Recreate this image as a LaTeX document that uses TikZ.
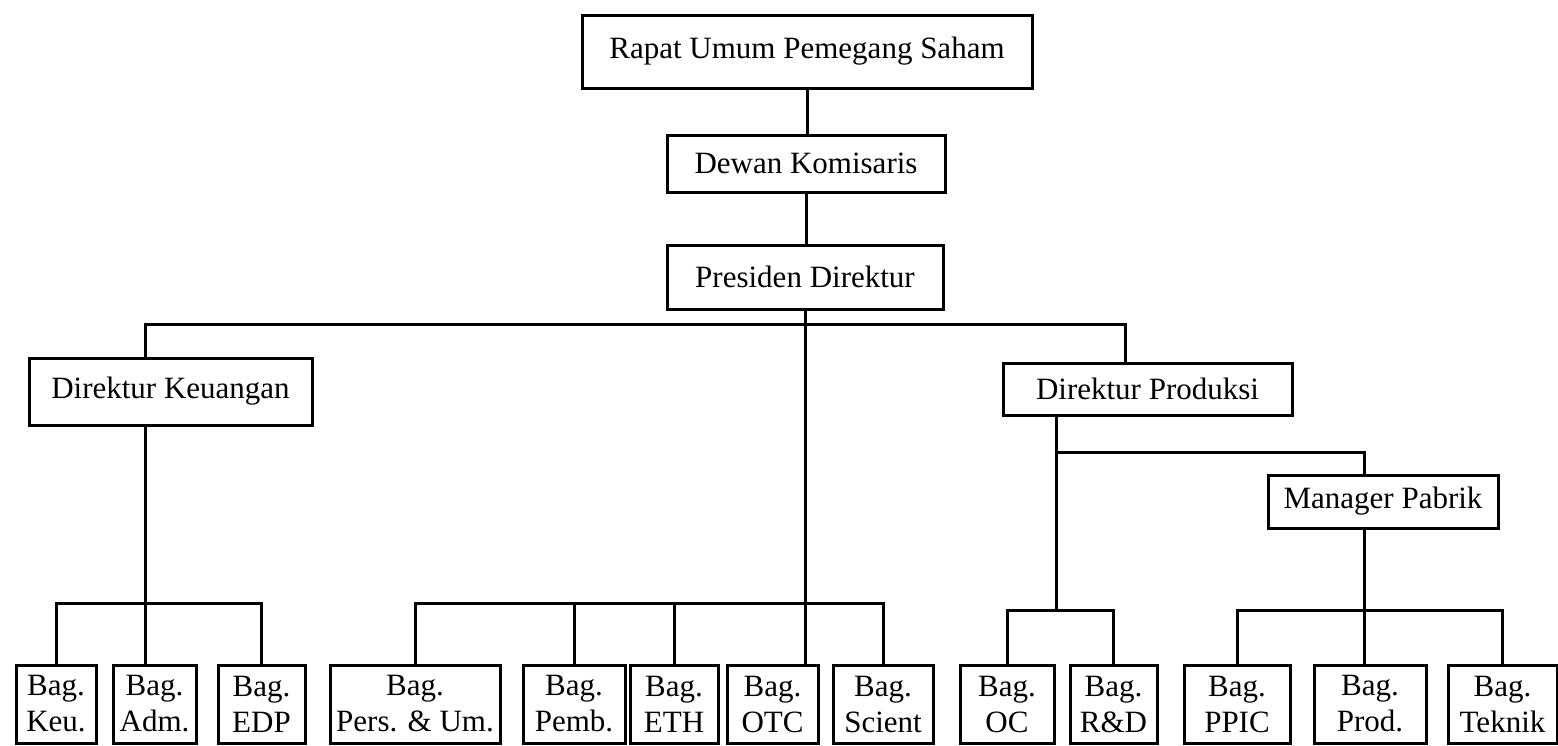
\documentclass[tikz,border=0pt]{standalone}
\usepackage{fontspec}
\setmainfont{Liberation Serif}
\begin{document}
\begin{tikzpicture}[x=1pt,y=-1pt,line width=3pt]
  \tikzstyle{box}=[draw,rectangle,inner sep=0pt,align=center,
                   font=\fontsize{31}{36}\selectfont]
  \tikzstyle{bag}=[box,minimum height=78pt]
  \useasboundingbox (0,0) rectangle (1558,745);

  % pimpinan
  \node[box,minimum width=450pt,minimum height=73pt] (rups)    at (807,51.5)    {Rapat Umum Pemegang Saham};
  \node[box,minimum width=278pt,minimum height=57pt] (dewan)   at (806,163.5)   {Dewan Komisaris};
  \node[box,minimum width=276pt,minimum height=64pt] (presdir) at (805,277)     {Presiden Direktur};
  \node[box,minimum width=283pt,minimum height=67pt] (dirkeu)  at (170.5,391.5) {Direktur Keuangan};
  \node[box,minimum width=289pt,minimum height=52pt] (dirprod) at (1147.5,389)  {Direktur Produksi};
  \node[box,minimum width=230pt,minimum height=53pt] (manager) at (1383,501.5)  {Manager Pabrik};

  % bagian
  \node[bag,minimum width=80pt]  (keu)    at (56,704)     {Bag.\\Keu.};
  \node[bag,minimum width=83pt]  (adm)    at (154.5,704)  {Bag.\\Adm.};
  \node[bag,minimum width=87pt]  (edp)    at (261.5,704)  {Bag.\\EDP};
  \node[bag,minimum width=170pt] (pers)   at (415,704)    {Bag.\\Pers. \& Um.};
  \node[bag,minimum width=102pt] (pemb)   at (574,704)    {Bag.\\Pemb.};
  \node[bag,minimum width=88pt]  (eth)    at (674,704)    {Bag.\\ETH};
  \node[bag,minimum width=91pt]  (otc)    at (772.5,704)  {Bag.\\OTC};
  \node[bag,minimum width=100pt] (scient) at (883,704)    {Bag.\\Scient};
  \node[bag,minimum width=94pt]  (oc)     at (1007,704)   {Bag.\\OC};
  \node[bag,minimum width=87pt]  (rnd)    at (1113.5,704) {Bag.\\R\&D};
  \node[bag,minimum width=106pt] (ppic)   at (1237,704)   {Bag.\\PPIC};
  \node[bag,minimum width=112pt] (prod)   at (1370,704)   {Bag.\\Prod.};
  \node[bag,minimum width=109pt] (teknik) at (1502.5,704) {Bag.\\Teknik};

  % garis
  \coordinate (mainbus) at (0,324);
  \coordinate (keubus)  at (0,603);
  \coordinate (prodbus) at (0,452);
  \coordinate (pabbus)  at (0,610);
  \coordinate (keux)    at (145,0);
  \coordinate (dropx)   at (1125,0);
  \coordinate (prodx)   at (1056,0);
  \coordinate (pabx)    at (1364,0);

  \draw (rups.south) -- (rups.south |- dewan.north);
  \draw (dewan.south) -- (dewan.south |- presdir.north);
  \draw (presdir.south) -- (presdir.south |- otc.north);
  \draw (keux |- dirkeu.north) -- (keux |- mainbus) -- (dropx |- mainbus) -- (dropx |- dirprod.north);

  \draw (keux |- dirkeu.south) -- (keux |- adm.north);
  \draw (keu.north) -- (keu.north |- keubus) -- (edp.north |- keubus) -- (edp.north);

  \draw (pers.north) -- (pers.north |- keubus) -- (scient.north |- keubus) -- (scient.north);
  \draw (pemb.north) -- (pemb.north |- keubus);
  \draw (eth.north) -- (eth.north |- keubus);

  \draw (prodx |- dirprod.south) -- (prodx |- pabbus);
  \draw (prodx |- prodbus) -- (pabx |- prodbus) -- (pabx |- manager.north);
  \draw (pabx |- manager.south) -- (pabx |- prod.north);
  \draw (oc.north) -- (oc.north |- pabbus) -- (rnd.north |- pabbus) -- (rnd.north);
  \draw (ppic.north) -- (ppic.north |- pabbus) -- (teknik.north |- pabbus) -- (teknik.north);
\end{tikzpicture}
\end{document}
